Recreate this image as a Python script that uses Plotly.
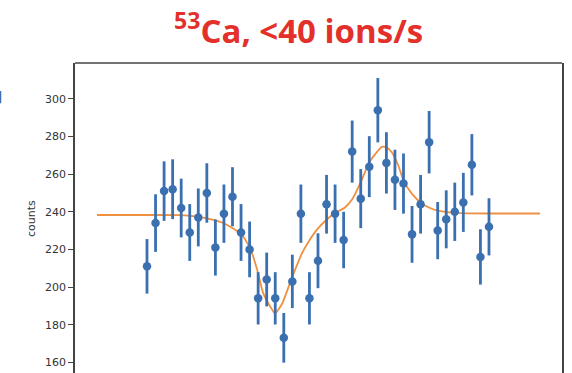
import plotly.graph_objects as go

# channel index of each measurement (equally spaced scan steps)
scan_step = list(range(41))
counts = [211, 234, 251, 252, 242, 229, 237, 250, 221, 239, 248, 229, 220, 194, 204,
          194, 173, 203, 239, 194, 214, 244, 239, 225, 272, 247, 264, 294, 266, 257,
          255, 228, 244, 277, 230, 236, 240, 245, 265, 216, 232]
count_err = [14.5, 15.3, 15.8, 15.9, 15.6, 15.1, 15.4, 15.8, 14.9, 15.5, 15.7, 15.1, 14.8, 13.9, 14.3,
             13.9, 13.2, 14.2, 15.5, 13.9, 14.6, 15.6, 15.5, 15.0, 16.5, 15.7, 16.2, 17.1, 16.3, 16.0,
             16.0, 15.1, 15.6, 16.6, 15.2, 15.4, 15.5, 15.7, 16.3, 14.7, 15.2]

# fitted curve
fit_x = [-5.85, 0.0, 3.86, 5.61, 7.13, 8.77, 9.94, 11.11, 12.05, 12.87, 13.57, 14.39, 14.97,
         15.79, 16.96, 18.13, 18.95, 19.88, 20.94, 21.99, 23.16, 23.98, 25.03, 25.96, 26.67,
         27.49, 28.07, 28.65, 29.36, 30.06, 31.0, 32.05, 33.1, 34.04, 35.09, 36.61, 40.12, 45.96]
fit_y = [238.3, 238.3, 238.2, 237.6, 236.4, 234.3, 231.5, 227.7, 220.8, 209.5, 197.0, 189.8, 186.0,
         191.0, 205.0, 218.0, 224.5, 230.5, 235.5, 239.3, 242.3, 246.5, 256.0, 266.0, 270.5,
         274.6, 274.2, 271.5, 265.0, 256.0, 249.5, 244.7, 242.0, 240.6, 239.8, 239.3, 239.1, 239.1]

y_ticks = [160, 180, 200, 220, 240, 260, 280, 300]

BLUE = "#3a6fb0"
ORANGE = "#ee9040"
AX = "#444444"

fig = go.Figure()
fig.add_trace(go.Scatter(
    x=fit_x, y=fit_y, mode="lines", line=dict(color=ORANGE, width=1.8, shape="spline", smoothing=0.5),
    hoverinfo="skip", showlegend=False))
fig.add_trace(go.Scatter(
    x=scan_step, y=counts, mode="markers",
    marker=dict(color=BLUE, size=8.5),
    error_y=dict(type="data", array=count_err, visible=True, color=BLUE, thickness=2.8, width=0),
    showlegend=False))

fig.update_layout(
    width=572, height=373,
    margin=dict(l=75, r=10, t=63, b=0),
    paper_bgcolor="white", plot_bgcolor="white",
    xaxis=dict(range=[-8.42, 48.54], showgrid=False, zeroline=False, showticklabels=False,
               ticks="", showline=False),
    yaxis=dict(range=[154.3, 319.1], tickvals=y_ticks, showgrid=False, zeroline=False,
               showline=True, mirror=True, linecolor=AX, linewidth=1.5,
               ticks="outside", ticklen=5, tickwidth=1.2, tickcolor=AX,
               tickfont=dict(family="DejaVu Sans", size=11, color="#333333")),
    shapes=[
        dict(type="line", xref="paper", yref="paper", x0=0, x1=1, y0=1, y1=1,
             line=dict(color=AX, width=1.5)),
        dict(type="line", xref="paper", yref="paper", x0=-0.1535, x1=-0.1535, y0=0.87, y1=0.91,
             line=dict(color=BLUE, width=2)),
    ],
    annotations=[
        dict(text="<sup>53</sup>Ca, &lt;40 ions/s", xref="paper", yref="paper",
             x=0.458, y=1.112, xanchor="center", yanchor="middle", showarrow=False,
             font=dict(family="Open Sans", size=33, color="#e3302a", weight="bold")),
        dict(text="counts", xref="paper", yref="paper", x=-0.088, y=0.497, textangle=-90,
             xanchor="center", yanchor="middle", showarrow=False,
             font=dict(family="DejaVu Sans", size=11, color="#333333")),
    ],
)

fig.write_html("out.html")
